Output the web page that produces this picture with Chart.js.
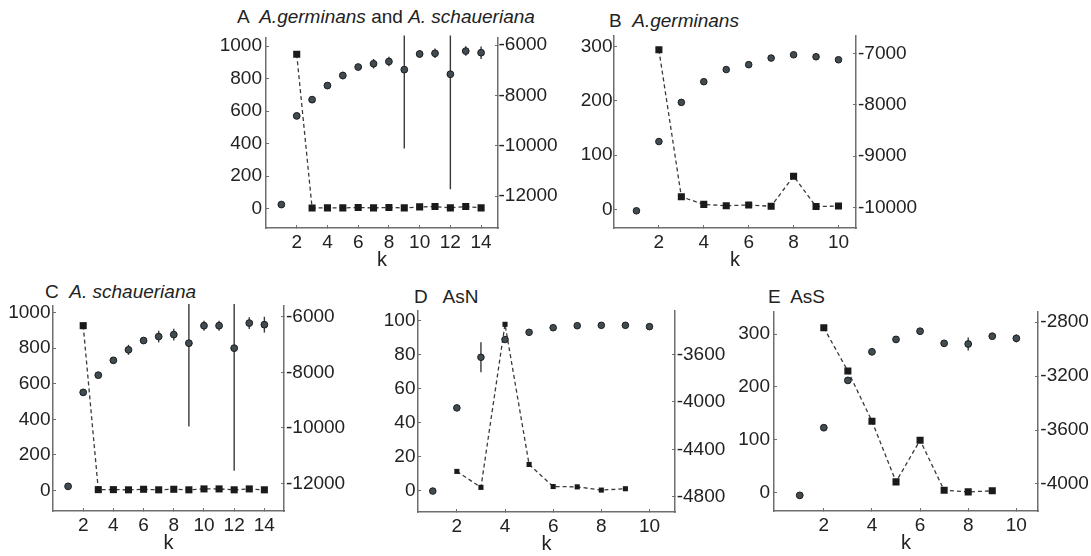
<!DOCTYPE html>
<html>
<head>
<meta charset="utf-8">
<script src="https://cdn.jsdelivr.net/npm/chart.js@4.4.0/dist/chart.umd.min.js"></script>
<style>
html,body{margin:0;padding:0;background:#fff;width:1091px;height:556px;overflow:hidden;position:relative;}
canvas{position:absolute;}
.ttl{position:absolute;font-family:"Liberation Sans",Arial,sans-serif;font-size:19px;color:#222;white-space:pre;line-height:19px;}
</style>
</head>
<body>
<div class="ttl" style="left:237px;top:7px">A  <i>A.germinans</i> and <i>A. schaueriana</i></div>
<div class="ttl" style="left:609px;top:11px">B  <i>A.germinans</i></div>
<div class="ttl" style="left:45px;top:282px">C  <i>A. schaueriana</i></div>
<div class="ttl" style="left:414px;top:287px">D   AsN</div>
<div class="ttl" style="left:768px;top:287px">E  AsS</div>

<canvas id="cA"></canvas>
<canvas id="cB"></canvas>
<canvas id="cC"></canvas>
<canvas id="cD"></canvas>
<canvas id="cE"></canvas>

<script>
// ---------------- DATA ----------------
// Panel A: A.germinans and A. schaueriana
const kA = [1, 2, 3, 4, 5, 6, 7, 8, 9, 10, 11, 12, 13, 14];
const lnPA = [-12330, -8808, -8163, -7604, -7204, -6867, -6738, -6648, -6971, -6349, -6323, -7153, -6233, -6298];
const sdA = [30, 40, 40, 60, 150, 80, 190, 190, 3130, 150, 190, 4570, 190, 250];
const deltaKA = [null, 950, 3, 4, 4, 6, 4, 6, 4, 10, 12, 4, 12, 4];
const xTicksA = [2, 4, 6, 8, 10, 12, 14];
const yLeftTicksA = [0, 200, 400, 600, 800, 1000];
const yRightTicksA = [-6000, -8000, -10000, -12000];

// Panel B: A.germinans
const kB = [1, 2, 3, 4, 5, 6, 7, 8, 9, 10];
const lnPB = [-10069, -8715, -7950, -7545, -7308, -7212, -7083, -7019, -7058, -7116];
const sdB = [10, 15, 15, 12, 10, 10, 10, 10, 10, 10];
const deltaKB = [null, 294, 23, 9, 6.5, 8, 5.5, 61, 5, 6];
const xTicksB = [2, 4, 6, 8, 10];
const yLeftTicksB = [0, 100, 200, 300];
const yRightTicksB = [-7000, -8000, -9000, -10000];

// Panel C: A. schaueriana
const kC = [1, 2, 3, 4, 5, 6, 7, 8, 9, 10, 11, 12, 13, 14];
const lnPC = [-12110, -8724, -8104, -7569, -7190, -6856, -6713, -6642, -6952, -6321, -6321, -7130, -6228, -6285];
const sdC = [30, 50, 50, 110, 180, 100, 210, 210, 3005, 180, 180, 4420, 210, 285];
const deltaKC = [null, 926, 5, 5, 4, 7, 4, 7, 4, 9, 9, 4, 9, 4];
const xTicksC = [2, 4, 6, 8, 10, 12, 14];
const yLeftTicksC = [0, 200, 400, 600, 800, 1000];
const yRightTicksC = [-6000, -8000, -10000, -12000];

// Panel D: AsN
const kD = [1, 2, 3, 4, 5, 6, 7, 8, 9, 10];
const lnPD = [-4753, -4050, -3622, -3472, -3411, -3372, -3355, -3352, -3352, -3363];
const sdD = [5, 8, 127, 10, 8, 5, 5, 5, 5, 5];
const deltaKD = [null, 11.4, 2, 98, 15.5, 2.5, 2.3, 0.4, 1.2, null];
const xTicksD = [2, 4, 6, 8, 10];
const yLeftTicksD = [0, 20, 40, 60, 80, 100];
const yRightTicksD = [-3600, -4000, -4400, -4800];

// Panel E: AsS
const kE = [1, 2, 3, 4, 5, 6, 7, 8, 9, 10];
const lnPE = [-4085, -3583, -3232, -3020, -2928, -2867, -2957, -2962, -2904, -2920];
const sdE = [5, 8, 8, 10, 8, 8, 10, 48, 22, 29];
const deltaKE = [null, 312, 230, 135, 20, 99, 4, 1, 3, null];
const xTicksE = [2, 4, 6, 8, 10];
const yLeftTicksE = [0, 100, 200, 300];
const yRightTicksE = [-2800, -3200, -3600, -4000];

// ---------------- STYLE ----------------
const FONT = '"Liberation Sans", Arial, sans-serif';
const AXIS = '#6e6e6e';
const TXT = '#222222';
const CIRC = '#414c52';
const CIRC_EDGE = '#1c1c1c';
const SQ = '#1a1a1a';
const DASH = '#3a3a3a';
const ERR = '#3a3a3a';

const errorBars = {
  id: 'errorBars',
  beforeDatasetsDraw(chart, args, opts) {
    const sd = opts.sd;
    if (!sd) return;
    const meta = chart.getDatasetMeta(0);
    const ds = chart.data.datasets[0];
    const ys = chart.scales[ds.yAxisID];
    const a = chart.chartArea;
    const ctx = chart.ctx;
    ctx.save();
    ctx.beginPath();
    ctx.rect(a.left, a.top - 2, a.right - a.left, a.bottom - a.top + 2);
    ctx.clip();
    ctx.strokeStyle = ERR;
    ctx.lineWidth = 1.4;
    ds.data.forEach((p, i) => {
      if (p.y == null) return;
      const px = meta.data[i].x;
      const y1 = ys.getPixelForValue(p.y + sd[i]);
      const y2 = ys.getPixelForValue(p.y - sd[i]);
      ctx.beginPath();
      ctx.moveTo(px, y1);
      ctx.lineTo(px, y2);
      ctx.stroke();
    });
    ctx.restore();
  }
};

function pts(k, v) { return k.map((x, i) => ({ x: x, y: v[i] })); }

function yAxis(pos, min, max, ticksArr, w, pad) {
  return {
    type: 'linear', position: pos, min: min, max: max,
    afterBuildTicks: s => { s.ticks = ticksArr.map(v => ({ value: v })); },
    afterFit: s => { s.width = w; },
    grid: { drawOnChartArea: false, drawTicks: true, tickLength: -3, tickColor: AXIS, tickWidth: 1 },
    border: { display: true, color: AXIS, width: 1.5 },
    ticks: { color: TXT, font: { family: FONT, size: 19 }, padding: pad + 3, callback: v => String(v) }
  };
}

function xAxis(min, max, ticksArr, h) {
  return {
    type: 'linear', position: 'bottom', min: min, max: max,
    afterBuildTicks: s => { s.ticks = ticksArr.map(v => ({ value: v })); },
    afterFit: s => { s.height = h; },
    grid: { drawOnChartArea: false, drawTicks: true, tickLength: -3, tickColor: AXIS, tickWidth: 1 },
    border: { display: true, color: AXIS, width: 1.5 },
    ticks: { color: TXT, font: { family: FONT, size: 19 }, padding: 6, maxRotation: 0, autoSkip: false, callback: v => String(v) },
    title: { display: true, text: 'k', color: TXT, font: { family: FONT, size: 20 }, padding: { top: 0, bottom: 0 } }
  };
}

const LW = 50, RW = 68, PT = 14, HX = 44;

function panel(id, p) {
  const c = document.getElementById(id);
  const w = LW + (p.right - p.left) + RW;
  const h = PT + (p.bottom - p.top) + HX;
  c.width = Math.round(w); c.height = Math.round(h);
  c.style.left = (p.left - LW) + 'px';
  c.style.top = (p.top - PT) + 'px';
  c.style.width = Math.round(w) + 'px';
  c.style.height = Math.round(h) + 'px';
  new Chart(c, {
    type: 'scatter',
    data: {
      datasets: [
        { data: pts(p.k, p.lnP), yAxisID: 'yR', pointStyle: 'circle', pointRadius: p.cr, pointHoverRadius: p.cr,
          backgroundColor: CIRC, borderColor: CIRC_EDGE, borderWidth: 1, showLine: false },
        { data: pts(p.k, p.dk), yAxisID: 'yL', pointStyle: 'rect', pointRadius: p.sr, pointHoverRadius: p.sr,
          pointBackgroundColor: SQ, pointBorderColor: SQ, pointBorderWidth: 0, borderColor: DASH, borderWidth: 1.3,
          borderDash: [4, 3], showLine: true, tension: 0, spanGaps: false, fill: false }
      ]
    },
    options: {
      responsive: false, animation: false, events: [],
      layout: { padding: { top: PT, left: 0, right: 0, bottom: 0 } },
      plugins: { legend: { display: false }, tooltip: { enabled: false }, errorBars: { sd: p.sd } },
      scales: {
        x: xAxis(p.xmin, p.xmax, p.xt, HX),
        yL: yAxis('left', p.lmin, p.lmax, p.lt, LW, p.lpad),
        yR: yAxis('right', p.rmin, p.rmax, p.rt, RW, p.rpad)
      }
    },
    plugins: [errorBars]
  });
}

panel('cA', { left: 266, right: 498, top: 33, bottom: 228, k: kA, lnP: lnPA, sd: sdA, dk: deltaKA,
  xt: xTicksA, lt: yLeftTicksA, rt: yRightTicksA, xmin: 0, xmax: 15.1, lmin: -120, lmax: 1054, rmin: -13262, rmax: -5690,
  lpad: 4, rpad: 0.5, cr: 3.4, sr: 5 });
panel('cB', { left: 614, right: 856, top: 33, bottom: 228, k: kB, lnP: lnPB, sd: sdB, dk: deltaKB,
  xt: xTicksB, lt: yLeftTicksB, rt: yRightTicksB, xmin: 0, xmax: 10.78, lmin: -34.5, lmax: 320.5, rmin: -10405, rmax: -6640,
  lpad: 1.5, rpad: 2, cr: 3.3, sr: 5 });
panel('cC', { left: 53, right: 284, top: 303, bottom: 511, k: kC, lnP: lnPC, sd: sdC, dk: deltaKC,
  xt: xTicksC, lt: yLeftTicksC, rt: yRightTicksC, xmin: 0, xmax: 15.3, lmin: -115, lmax: 1037, rmin: -12998, rmax: -5608,
  lpad: 2.5, rpad: 2, cr: 3.4, sr: 5 });
panel('cD', { left: 418, right: 675, top: 308, bottom: 512, k: kD, lnP: lnPD, sd: sdD, dk: deltaKD,
  xt: xTicksD, lt: yLeftTicksD, rt: yRightTicksD, xmin: 0.386, xmax: 11.06, lmin: -12.5, lmax: 105.9, rmin: -4930, rmax: -3230,
  lpad: 2.5, rpad: 1.7, cr: 3.3, sr: 3.6 });
panel('cE', { left: 774, right: 1038, top: 307, bottom: 511, k: kE, lnP: lnPE, sd: sdE, dk: deltaKE,
  xt: xTicksE, lt: yLeftTicksE, rt: yRightTicksE, xmin: -0.07, xmax: 10.9, lmin: -35.2, lmax: 343, rmin: -4201, rmax: -2720,
  lpad: 4, rpad: 2.3, cr: 3.4, sr: 5 });
</script>
</body>
</html>
